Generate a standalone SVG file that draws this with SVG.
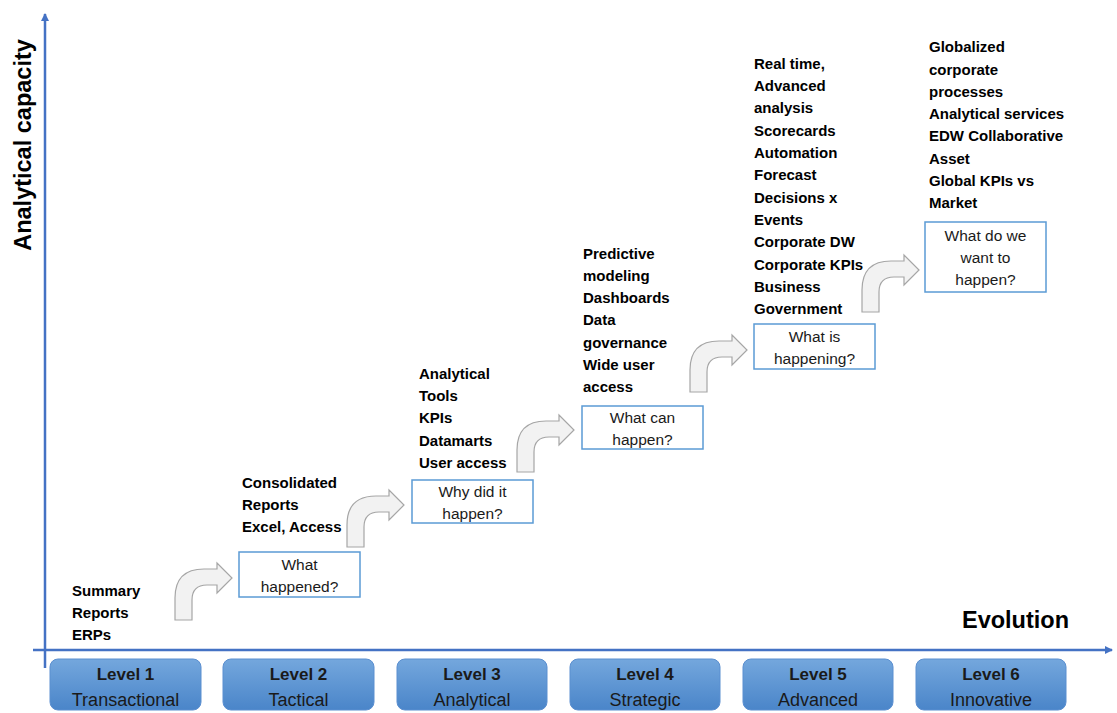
<svg xmlns="http://www.w3.org/2000/svg" width="1117" height="713" viewBox="0 0 1117 713">
<defs>
<linearGradient id="lg" x1="0" y1="0" x2="0" y2="1">
<stop offset="0" stop-color="#74a7dd"/>
<stop offset="1" stop-color="#4a85c9"/>
</linearGradient>
<marker id="ah" markerWidth="8" markerHeight="8" refX="7" refY="4" orient="auto" markerUnits="userSpaceOnUse">
<path d="M0,0 L8,4 L0,8 z" fill="#4472c4"/>
</marker>
<path id="bent" d="M0,0 L0,-22 Q0,-51 29,-51 L42,-51 L42,-57 L57,-42 L42,-27 L42,-35 L32,-35 Q17,-35 17,-20 L17,0 Z"/>
</defs>
<style>
.axis{stroke:#4472c4;stroke-width:2.5;fill:none}
.lvl{fill:url(#lg);stroke:#5b8fd0;stroke-width:1}
.lt{font-family:"Liberation Sans",Arial,sans-serif;font-size:17px;font-weight:bold;fill:#1a1a1a;text-anchor:middle}
.ls{font-family:"Liberation Sans",Arial,sans-serif;font-size:18px;fill:#1a1a1a;text-anchor:middle}
.q{fill:#fff;stroke:#5b9bd5;stroke-width:1.5}
.qt{font-family:"Liberation Sans",Arial,sans-serif;font-size:15.5px;fill:#1a1a1a;text-anchor:middle}
.bt{font-family:"Liberation Sans",Arial,sans-serif;font-size:15px;font-weight:bold;fill:#000}
.arr{fill:#f2f2f2;stroke:#a6a6a6;stroke-width:1.2}
.ax{font-family:"Liberation Sans",Arial,sans-serif;font-weight:bold;fill:#000}
</style>
<g id="connectors">
<line class="axis" x1="45" y1="668" x2="45" y2="14" marker-end="url(#ah)"/>
<line class="axis" x1="33" y1="650" x2="1112" y2="650" marker-end="url(#ah)"/>
<use href="#bent" class="arr" transform="translate(175,620)"/>
<use href="#bent" class="arr" transform="translate(347,547)"/>
<use href="#bent" class="arr" transform="translate(517,472)"/>
<use href="#bent" class="arr" transform="translate(690,392)"/>
<use href="#bent" class="arr" transform="translate(862,312)"/>
</g>
<text class="ax" font-size="23.5" transform="translate(31,145) rotate(-90)" text-anchor="middle">Analytical capacity</text>
<text class="ax" font-size="23.5" x="1069" y="628" text-anchor="end">Evolution</text>
<g id="level1">
<rect class="lvl" x="50" y="659" width="151" height="51" rx="8"/>
<text class="lt" x="125.5" y="680">Level 1</text>
<text class="ls" x="125.5" y="706">Transactional</text>
<text class="bt"><tspan x="72" y="596">Summary</tspan><tspan x="72" y="618">Reports</tspan><tspan x="72" y="640">ERPs</tspan></text>
</g>
<g id="level2">
<rect class="lvl" x="223" y="659" width="151" height="51" rx="8"/>
<text class="lt" x="298.5" y="680">Level 2</text>
<text class="ls" x="298.5" y="706">Tactical</text>
<text class="bt"><tspan x="242" y="488">Consolidated</tspan><tspan x="242" y="510">Reports</tspan><tspan x="242" y="532">Excel, Access</tspan></text>
<rect class="q" x="239" y="552" width="121" height="45"/>
<text class="qt"><tspan x="299.5" y="570">What</tspan><tspan x="299.5" y="592">happened?</tspan></text>
</g>
<g id="level3">
<rect class="lvl" x="397" y="659" width="150" height="51" rx="8"/>
<text class="lt" x="472" y="680">Level 3</text>
<text class="ls" x="472" y="706">Analytical</text>
<text class="bt"><tspan x="419" y="379">Analytical</tspan><tspan x="419" y="401">Tools</tspan><tspan x="419" y="423">KPIs</tspan><tspan x="419" y="446">Datamarts</tspan><tspan x="419" y="468">User access</tspan></text>
<rect class="q" x="412" y="480" width="121" height="43"/>
<text class="qt"><tspan x="472.5" y="497">Why did it</tspan><tspan x="472.5" y="519">happen?</tspan></text>
</g>
<g id="level4">
<rect class="lvl" x="570" y="659" width="150" height="51" rx="8"/>
<text class="lt" x="645" y="680">Level 4</text>
<text class="ls" x="645" y="706">Strategic</text>
<text class="bt"><tspan x="583" y="259">Predictive</tspan><tspan x="583" y="281">modeling</tspan><tspan x="583" y="303">Dashboards</tspan><tspan x="583" y="325">Data</tspan><tspan x="583" y="348">governance</tspan><tspan x="583" y="370">Wide user</tspan><tspan x="583" y="392">access</tspan></text>
<rect class="q" x="582" y="406" width="121" height="43"/>
<text class="qt"><tspan x="642.5" y="423">What can</tspan><tspan x="642.5" y="445">happen?</tspan></text>
</g>
<g id="level5">
<rect class="lvl" x="743" y="659" width="150" height="51" rx="8"/>
<text class="lt" x="818" y="680">Level 5</text>
<text class="ls" x="818" y="706">Advanced</text>
<text class="bt"><tspan x="754" y="69">Real time,</tspan><tspan x="754" y="91">Advanced</tspan><tspan x="754" y="113">analysis</tspan><tspan x="754" y="136">Scorecards</tspan><tspan x="754" y="158">Automation</tspan><tspan x="754" y="180">Forecast</tspan><tspan x="754" y="203">Decisions x</tspan><tspan x="754" y="225">Events</tspan><tspan x="754" y="247">Corporate DW</tspan><tspan x="754" y="270">Corporate KPIs</tspan><tspan x="754" y="292">Business</tspan><tspan x="754" y="314">Government</tspan></text>
<rect class="q" x="754" y="324" width="121" height="45"/>
<text class="qt"><tspan x="814.5" y="342">What is</tspan><tspan x="814.5" y="364">happening?</tspan></text>
</g>
<g id="level6">
<rect class="lvl" x="916" y="659" width="150" height="51" rx="8"/>
<text class="lt" x="991" y="680">Level 6</text>
<text class="ls" x="991" y="706">Innovative</text>
<text class="bt"><tspan x="929" y="52">Globalized</tspan><tspan x="929" y="75">corporate</tspan><tspan x="929" y="97">processes</tspan><tspan x="929" y="119">Analytical services</tspan><tspan x="929" y="141">EDW Collaborative</tspan><tspan x="929" y="164">Asset</tspan><tspan x="929" y="186">Global KPIs vs</tspan><tspan x="929" y="208">Market</tspan></text>
<rect class="q" x="925" y="222" width="121" height="70"/>
<text class="qt"><tspan x="985.5" y="241">What do we</tspan><tspan x="985.5" y="263">want to</tspan><tspan x="985.5" y="285">happen?</tspan></text>
</g>
</svg>
